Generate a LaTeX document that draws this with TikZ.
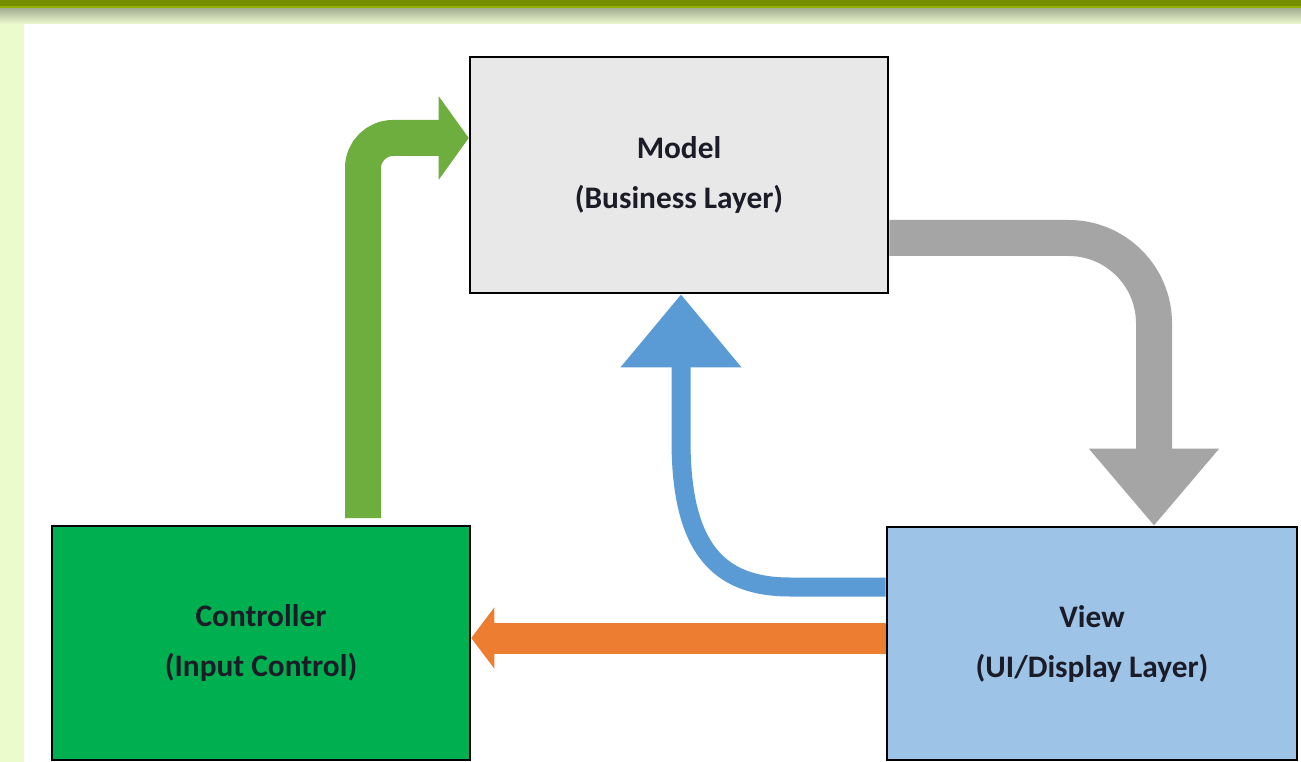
\documentclass[tikz,border=0pt]{standalone}
\usepackage{fontspec}
\setmainfont{Carlito}
\usetikzlibrary{arrows.meta}
\definecolor{bandgreen}{HTML}{EBFBCC}
\definecolor{darkolive}{HTML}{768F00}
\definecolor{brightolive}{HTML}{92B200}
\definecolor{gradgray}{HTML}{A2AB92}
\definecolor{modelfill}{HTML}{E8E8E8}
\definecolor{ctrlfill}{HTML}{00B050}
\definecolor{viewfill}{HTML}{9DC3E6}
\definecolor{arrgreen}{HTML}{6DAE3E}
\definecolor{arrgray}{HTML}{A5A5A5}
\definecolor{arrblue}{HTML}{5B9BD5}
\definecolor{arrorange}{HTML}{ED7D31}
\definecolor{txt}{HTML}{1C1C28}
\tikzset{
  box/.style={draw=black, line width=1.9pt, align=center, text=txt,
    font=\fontsize{23.5}{37.5}\selectfont\bfseries, inner sep=0pt},
}
\begin{document}
\begin{tikzpicture}[x=0.75pt,y=-0.75pt]
\useasboundingbox (0,0) rectangle (1301,762);
% background
\fill[white] (0,0) rectangle (1301,762);
\fill[bandgreen] (0,0) rectangle (24,762);
\fill[bandgreen] (0,0) rectangle (1301,24);
\shade[top color=gradgray, bottom color=bandgreen] (0,8) rectangle (1301,24);
\fill[darkolive] (0,0) rectangle (1301,6);
\fill[brightolive] (0,6) rectangle (1301,8);
% boxes
\node[box, fill=modelfill, minimum width=313.5pt, minimum height=177pt] (model) at (679,175) {Model\\(Business Layer)};
\node[box, fill=ctrlfill, minimum width=313.5pt, minimum height=175.5pt] (ctrl) at (261,643) {Controller\\(Input Control)};
\node[box, fill=viewfill, minimum width=307.5pt, minimum height=174.75pt] (view) at (1092,643.5) {View\\(UI/Display Layer)};
% connectors
\coordinate (gs) at (363,518);
\draw[arrgreen, line width=27pt, rounded corners=22.5pt, -{Triangle[length=22.5pt,width=61.5pt]}]
  (gs) |- (model.west |- 0,138);
\draw[arrgray, line width=27pt, rounded corners=64pt, -{Triangle[length=57.75pt,width=93.75pt]}]
  (model.east |- 0,238) -| (view.north -| 1154,0);
\draw[arrblue, line width=14.25pt, -{Triangle[length=54.75pt,width=87pt]}]
  (view.west |- 0,587) -- (790,587) .. controls (718,587) and (681,548) .. (681,440) -- (model.south -| 681,0);
\draw[arrorange, line width=23.25pt, -{Triangle[length=17.25pt,width=45pt]}]
  (view.west |- 0,638) -- (ctrl.east |- 0,638);
\end{tikzpicture}
\end{document}
